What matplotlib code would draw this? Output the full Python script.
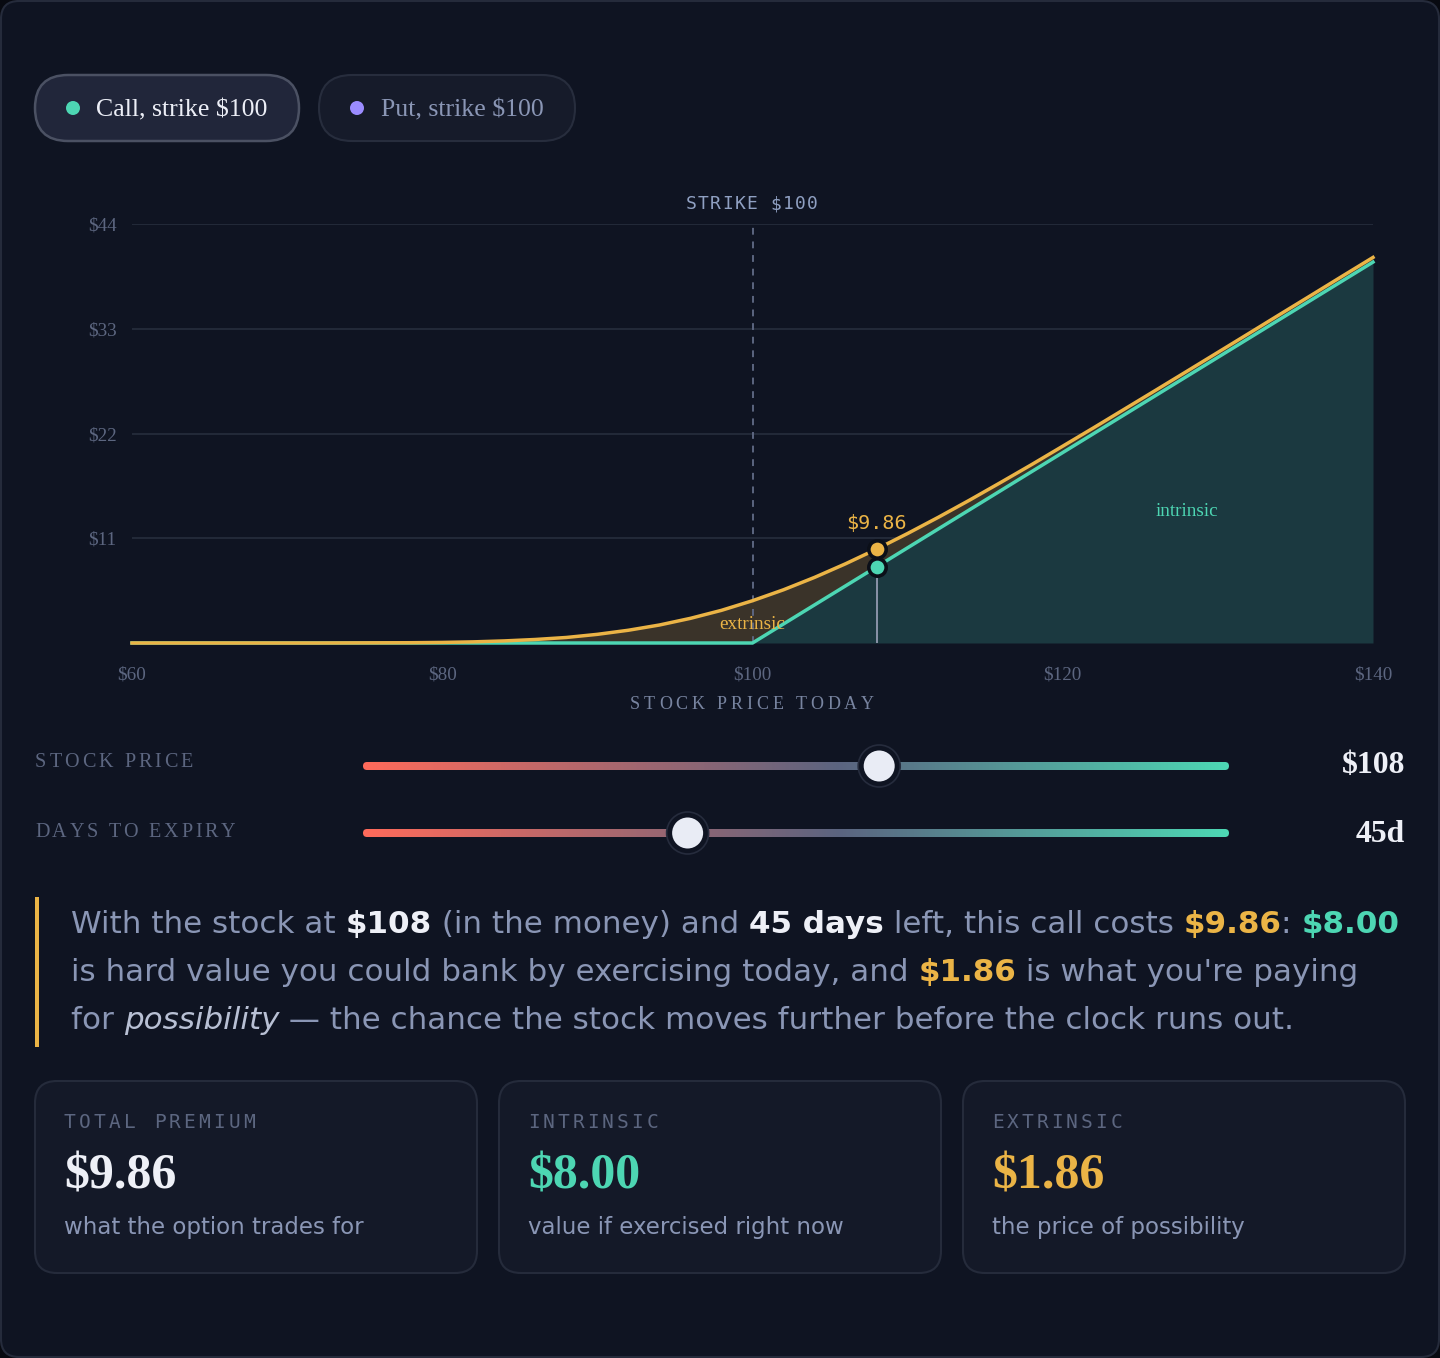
import matplotlib
matplotlib.use('Agg')
import numpy as np
import matplotlib.pyplot as plt
from matplotlib.patches import FancyBboxPatch, Circle
from matplotlib.font_manager import FontProperties
from matplotlib.colors import LinearSegmentedColormap

# ---------------- data ----------------
stock_prices = [60, 62, 64, 66, 68, 70, 72, 74, 76, 78, 80, 82, 84, 86, 88, 90, 92, 94, 96, 98,
                100, 102, 104, 106, 108, 110, 112, 114, 116, 118, 120, 122, 124, 126, 128, 130,
                132, 134, 136, 138, 140]
call_values = [0.0, 0.0, 0.0, 0.0, 0.0, 0.0, 0.0, 0.01, 0.02, 0.03, 0.06, 0.12, 0.22, 0.37, 0.58,
               0.91, 1.34, 1.89, 2.59, 3.43, 4.44, 5.59, 6.89, 8.32, 9.86, 11.50, 13.22, 15.01,
               16.86, 18.74, 20.67, 22.61, 24.58, 26.55, 28.53, 30.52, 32.51, 34.51, 36.50,
               38.50, 40.49]
intrinsic_values = [0, 0, 0, 0, 0, 0, 0, 0, 0, 0, 0, 0, 0, 0, 0, 0, 0, 0, 0, 0,
                    0, 2, 4, 6, 8, 10, 12, 14, 16, 18, 20, 22, 24, 26, 28, 30, 32, 34, 36, 38, 40]
strike = 100
current_price = 108
premium = 9.86
intrinsic_now = 8.00
extrinsic_now = 1.86
days_to_expiry = 45
price_range = (60, 140)
days_range = (1, 120)
y_ticks = [11, 22, 33, 44]
y_tick_labels = ['$11', '$22', '$33', '$44']
x_ticks = [60, 80, 100, 120, 140]
x_tick_labels = ['$60', '$80', '$100', '$120', '$140']
option_tabs = ['Call, strike $100', 'Put, strike $100']
slider_labels = ['STOCK PRICE', 'DAYS TO EXPIRY']
slider_values = ['$108', '45d']
card_labels = ['TOTAL PREMIUM', 'INTRINSIC', 'EXTRINSIC']
card_values = ['$9.86', '$8.00', '$1.86']
card_notes = ['what the option trades for', 'value if exercised right now', 'the price of possibility']

# ---------------- style ----------------
BG = '#0f1422'
OUTER = '#080a11'
GRID = '#222938'
MUTED = '#5c6680'
TEXT = '#8a96b5'
WHITE = '#eef0f7'
YELLOW = '#ebb446'
TEAL = '#4dd6b3'
PURPLE = '#9b8cff'
INT_FILL = '#1b3940'
EXT_FILL = '#3a3329'
CARD = '#141928'
EDGE = '#252b3b'
SERIF = 'Liberation Serif'
SANS = 'DejaVu Sans'
MONO = 'DejaVu Sans Mono'

W, H = 1440, 1358
fig = plt.figure(figsize=(W / 100, H / 100), dpi=100, facecolor=OUTER)
deco = fig.add_axes([0, 0, 1, 1])
deco.set_xlim(0, W)
deco.set_ylim(H, 0)
deco.axis('off')
renderer = fig.canvas.get_renderer()


def fp(family, size, weight='normal', style='normal'):
    return FontProperties(family=family, size=size, weight=weight, style=style)


def adv(s, prop):
    w1 = renderer.get_text_width_height_descent(s + '|', prop, ismath=False)[0]
    w2 = renderer.get_text_width_height_descent('|', prop, ismath=False)[0]
    return w1 - w2


def fit(s, family, weight, target, base=20.0, style='normal'):
    return base * target / adv(s, fp(family, base, weight, style))


def txt(x, y, s, prop, color, ha='left', va='baseline', **kw):
    return deco.text(x, y, s, fontproperties=prop, color=color, ha=ha, va=va,
                     parse_math=False, **kw)


def tracked(x, y, s, prop, color, target, ha='left'):
    advs = [adv(c, prop) for c in s]
    tr = (target - sum(advs)) / (len(s) - 1)
    total = sum(advs) + tr * (len(s) - 1)
    x0 = x if ha == 'left' else (x - total / 2 if ha == 'center' else x - total)
    for c, a in zip(s, advs):
        if c != ' ':
            txt(x0, y, c, prop, color)
        x0 += a + tr


def rbox(x, y, w, h, r, fc, ec, lw=1.5, z=1):
    p = FancyBboxPatch((x, y), w, h, boxstyle=f'round,pad=0,rounding_size={r}',
                       fc=fc, ec=ec, lw=lw, zorder=z, mutation_aspect=1)
    deco.add_patch(p)
    return p


# outer frame
rbox(1, 1, W - 2, H - 2, 18, BG, EDGE, lw=1.5, z=0)

# ---------------- tabs ----------------
tab_size = fit(option_tabs[0], SERIF, 'normal', 172)
rbox(35, 75, 264, 66, 33, '#21263a', '#4b5163', lw=1.8)
rbox(319, 75, 256, 66, 33, '#161b2a', '#272d3d', lw=1.5)
deco.add_patch(Circle((73, 108), 7, fc=TEAL, ec='none', zorder=3))
deco.add_patch(Circle((357, 108), 7, fc=PURPLE, ec='none', zorder=3))
txt(96, 116, option_tabs[0], fp(SERIF, tab_size), '#eceef6', zorder=3)
txt(381, 116, option_tabs[1], fp(SERIF, tab_size), TEXT, zorder=3)

# ---------------- chart ----------------
ax = fig.add_axes([132 / W, (H - 643) / H, (1373 - 132) / W, (643 - 224) / H])
ax.patch.set_alpha(0)
ax.set_xlim(*price_range)
ax.set_ylim(0, 44)
for s in ax.spines.values():
    s.set_visible(False)
ax.set_yticks(y_ticks, y_tick_labels)
ax.set_xticks(x_ticks, x_tick_labels)
ax.tick_params(length=0, colors=MUTED, labelsize=13.8)
ax.tick_params(axis='x', pad=17)
ax.tick_params(axis='y', pad=11)
for lab in ax.get_xticklabels() + ax.get_yticklabels():
    lab.set_fontfamily(SERIF)
ax.grid(axis='y', color=GRID, lw=1.5)
ax.grid(axis='x', visible=False)
ax.set_axisbelow(True)

ax.fill_between(stock_prices, intrinsic_values, call_values, color=EXT_FILL, lw=0, zorder=1)
ax.fill_between(stock_prices, 0, intrinsic_values, color=INT_FILL, lw=0, zorder=1)
ax.axvline(strike, color=MUTED, ls=(0, (3.5, 3.5)), lw=1.4, zorder=2)
ax.plot([current_price, current_price], [0, intrinsic_now], color='#8a93a8', lw=1.4, zorder=2)
ax.plot(stock_prices, intrinsic_values, color=TEAL, lw=2.5, zorder=3, clip_on=False,
        solid_joinstyle='miter')
ax.plot(stock_prices, call_values, color=YELLOW, lw=2.5, zorder=4, clip_on=False)
ax.plot([current_price], [premium], 'o', ms=12.5, mfc=YELLOW, mec='#0b0f18', mew=2.6, zorder=6)
ax.plot([current_price], [intrinsic_now], 'o', ms=12.5, mfc=TEAL, mec='#0b0f18', mew=2.6, zorder=6)
ax.annotate(f'${premium:.2f}', xy=(current_price, premium), xytext=(0, 20),
            textcoords='offset pixels', ha='center', va='baseline', color=YELLOW,
            fontproperties=fp(MONO, 14.5), zorder=7, parse_math=False)
ax.text(128.0, 13.34, 'intrinsic', color=TEAL, ha='center', va='baseline',
        fontproperties=fp(SERIF, 13.8), zorder=5)
ax.text(100.0, 1.47, 'extrinsic', color=YELLOW, ha='center', va='baseline',
        fontproperties=fp(SERIF, 13.8), zorder=5)

tracked(752, 209, f'STRIKE ${strike}', fp(MONO, 13), '#8fa0c2', 132, ha='center')
tracked(752, 709, 'STOCK PRICE TODAY', fp(SERIF, 13), '#7884a0', 244, ha='center')

# ---------------- sliders ----------------
cmap = LinearSegmentedColormap.from_list('trk', [(0, '#ff6b5b'), (0.55, '#5b6480'), (1, '#4dd8b4')])
grad = np.linspace(0, 1, 512)[None, :]
track_l, track_r = 363, 1229
thumb_r = 17
slider_y = [766, 833]
fracs = [(current_price - price_range[0]) / (price_range[1] - price_range[0]),
         (days_to_expiry - days_range[0]) / (days_range[1] - days_range[0])]
label_targets = [158, 200]
label_base = [767, 837]
value_base = [773, 842]
lab_prop = fp(SERIF, 14.5)
val_size = fit(slider_values[0], SERIF, 'bold', 63)
for i in range(2):
    y = slider_y[i]
    clip = rbox(track_l, y - 4, track_r - track_l, 8, 4, 'none', 'none', lw=0, z=2)
    im = deco.imshow(grad, cmap=cmap, extent=[track_l, track_r, y + 4, y - 4], aspect='auto',
                     zorder=2, interpolation='bilinear')
    im.set_clip_path(clip)
    kx = track_l + thumb_r + fracs[i] * (track_r - track_l - 2 * thumb_r)
    deco.add_patch(Circle((kx, y), 21, fc=BG, ec='#262c3d', lw=1.2, zorder=3))
    deco.add_patch(Circle((kx, y), 15.5, fc='#e9ecf5', ec='none', zorder=4))
    tracked(35, label_base[i], slider_labels[i], lab_prop, MUTED, label_targets[i])
    txt(1405, value_base[i], slider_values[i], fp(SERIF, val_size, 'bold'), WHITE, ha='right')
deco.set_xlim(0, W)
deco.set_ylim(H, 0)

# ---------------- paragraph ----------------
deco.add_patch(plt.Rectangle((35, 897), 3.5, 150, fc=YELLOW, ec='none', zorder=2))
lines = [
    [('With the stock at ', TEXT, 'normal', 'normal'), ('$108', WHITE, 'bold', 'normal'),
     (' (in the money) and ', TEXT, 'normal', 'normal'), ('45 days', WHITE, 'bold', 'normal'),
     (' left, this call costs ', TEXT, 'normal', 'normal'), ('$9.86', YELLOW, 'bold', 'normal'),
     (': ', TEXT, 'normal', 'normal'), ('$8.00', TEAL, 'bold', 'normal')],
    [('is hard value you could bank by exercising today, and ', TEXT, 'normal', 'normal'),
     ('$1.86', YELLOW, 'bold', 'normal'), (" is what you're paying", TEXT, 'normal', 'normal')],
    [('for ', TEXT, 'normal', 'normal'), ('possibility', '#b8c0d4', 'normal', 'italic'),
     (' \u2014 the chance the stock moves further before the clock runs out.', TEXT, 'normal', 'normal')],
]
base = 20.0
w0 = sum(adv(t, fp(SANS, base, wt, st)) for t, c, wt, st in lines[0])
psize = base * 1327 / w0
for li, segs in enumerate(lines):
    x = 71
    y = 933 + 48 * li
    for t, c, wt, st in segs:
        prop = fp(SANS, psize, wt, st)
        txt(x, y, t, prop, c, zorder=3)
        x += adv(t, prop)

# ---------------- cards ----------------
card_x = [35, 499, 963]
label_targets = [191, 130, 130]
value_colors = [WHITE, TEAL, YELLOW]
big_size = fit(card_values[0], SERIF, 'bold', 112)
note_size = fit(card_notes[0], SANS, 'normal', 300)
for i, cx in enumerate(card_x):
    rbox(cx, 1081, 442, 192, 22, CARD, EDGE, lw=1.5, z=1)
    tracked(cx + 29, 1128, card_labels[i], fp(MONO, 14), MUTED, label_targets[i])
    txt(cx + 29, 1188, card_values[i], fp(SERIF, big_size, 'bold'), value_colors[i], zorder=3)
    txt(cx + 29, 1234, card_notes[i], fp(SANS, note_size), TEXT, zorder=3)

fig.savefig('out.png', dpi=100, facecolor=OUTER)
